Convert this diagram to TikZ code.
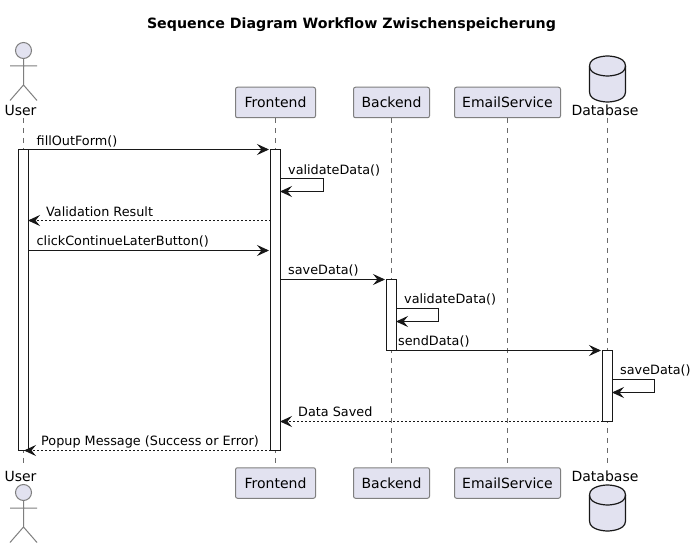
\documentclass[tikz,border=0pt]{standalone}
\usepackage{fontspec}
\setmainfont{DejaVu Sans}
\usetikzlibrary{arrows.meta}
\definecolor{partfill}{HTML}{E2E2F0}
\definecolor{partline}{HTML}{7F7F7F}
\definecolor{lifeline}{HTML}{6A6A6A}
\definecolor{inkdark}{HTML}{181818}
\tikzset{
  partbox/.style={draw=partline,fill=partfill,line width=1pt,rounded corners=2pt,minimum height=30.5pt,inner sep=0pt,outer sep=0pt,anchor=center,font=\fontsize{14}{16}\selectfont,text=black},
  life/.style={draw=lifeline,line width=0.8pt,dash pattern=on 5pt off 5pt},
  actv/.style={draw=inkdark,fill=white,line width=1pt,minimum width=10pt,inner sep=0pt,outer sep=0pt,anchor=north},
  msg/.style={draw=inkdark,line width=1pt,-{Stealth[length=12pt,width=11pt,inset=4.5pt]}},
  fwd/.style={msg,shorten >=1.5pt},
  rmsg/.style={msg,dash pattern=on 2pt off 2pt,shorten >=-0.5pt},
  lab/.style={anchor=base west,inner sep=0pt,font=\fontsize{12.8}{15}\selectfont,text=black},
  hdr/.style={anchor=base,inner sep=0pt,font=\fontsize{14}{16}\selectfont,text=black},
  actorline/.style={draw=partline,line width=1pt},
  dbshape/.style={draw=inkdark,fill=partfill,line width=1.2pt}
}
\begin{document}
\begin{tikzpicture}[x=1pt,y=-1pt]
\useasboundingbox (0,0) rectangle (697,548);
\fill[white] (0,0) rectangle (697,548);
\node[anchor=base,inner sep=0pt,font=\fontsize{14.2}{16}\bfseries\selectfont] (title) at (351.5,28.5) {Sequence Diagram Workflow Zwischenspeicherung};
% lifeline ends
\coordinate (uT) at (23.5,118); \coordinate (uB) at (23.5,463);
\coordinate (dT) at (607.5,118); \coordinate (dB) at (607.5,463);
% participants
\node[partbox,minimum width=80pt] (fT) at (275.5,102.5) {Frontend};
\node[partbox,minimum width=76pt] (bT) at (391.5,102.5) {Backend};
\node[partbox,minimum width=106pt] (eT) at (507.5,102.5) {EmailService};
\node[partbox,minimum width=80pt] (fB) at (275.5,483) {Frontend};
\node[partbox,minimum width=76pt] (bB) at (391.5,483) {Backend};
\node[partbox,minimum width=106pt] (eB) at (507.5,483) {EmailService};
% lifelines
\draw[life] (uT) -- (uB);
\draw[life,shorten <=0.5pt,shorten >=4.5pt] (fT) -- (fB);
\draw[life,shorten <=0.5pt,shorten >=4.5pt] (bT) -- (bB);
\draw[life,shorten <=0.5pt,shorten >=4.5pt] (eT) -- (eB);
\draw[life] (dT) -- (dB);
% activations
\node[actv,minimum height=301pt] (aU) at (23.5,149.5) {};
\node[actv,minimum height=301pt] (aF) at (275.5,149.5) {};
\node[actv,minimum height=71pt] (aB) at (391.5,279.5) {};
\node[actv,minimum height=71pt] (aD) at (607.5,350.5) {};
% actors
\draw[actorline,fill=partfill] (23.5,50.5) circle (8);
\draw[actorline] (23.5,59) -- (23.5,85) (10,66) -- (37,66) (10,100.5) -- (23.5,85) -- (37,100.5);
\draw[actorline,fill=partfill] (23.5,492.5) circle (8);
\draw[actorline] (23.5,501) -- (23.5,527) (10,508) -- (37,508) (10,542.5) -- (23.5,527) -- (37,542.5);
\node[hdr] (userT) at (20.5,115.5) {User};
\node[hdr] (userB) at (20.5,481) {User};
% databases
\draw[dbshape] (589.5,66) .. controls (589.5,56) and (607.5,56) .. (607.5,56) .. controls (607.5,56) and (625.5,56) .. (625.5,66) -- (625.5,92) .. controls (625.5,102) and (607.5,102) .. (607.5,102) .. controls (607.5,102) and (589.5,102) .. (589.5,92) -- cycle;
\draw[dbshape,fill=none] (589.5,66) .. controls (589.5,76) and (607.5,76) .. (607.5,76) .. controls (607.5,76) and (625.5,76) .. (625.5,66);
\draw[dbshape] (589.5,495) .. controls (589.5,485) and (607.5,485) .. (607.5,485) .. controls (607.5,485) and (625.5,485) .. (625.5,495) -- (625.5,521) .. controls (625.5,531) and (607.5,531) .. (607.5,531) .. controls (607.5,531) and (589.5,531) .. (589.5,521) -- cycle;
\draw[dbshape,fill=none] (589.5,495) .. controls (589.5,505) and (607.5,505) .. (607.5,505) .. controls (607.5,505) and (625.5,505) .. (625.5,495);
\node[hdr] (dbT) at (605,115.5) {Database};
\node[hdr] (dbB) at (605,481) {Database};
% messages
\draw[fwd] (aU.north east) -- (aF.north west);
\node[lab] (m1) at (36.5,145.5) {fillOutForm()};
\coordinate (s1a) at (280.5,178.5); \coordinate (s1b) at (323,178.5); \coordinate (s1c) at (323,191.5); \coordinate (s1d) at (280.5,191.5);
\draw[msg,shorten >=-0.5pt] (s1a) -- (s1b) -- (s1c) -- (s1d);
\node[lab] (m2) at (288,174.5) {validateData()};
\coordinate (r1a) at (270.5,220.5); \coordinate (r1b) at (28.5,220.5);
\draw[rmsg] (r1a) -- (r1b);
\node[lab] (m3) at (46,216.5) {Validation Result};
\coordinate (c1a) at (28.5,250.5); \coordinate (c1b) at (270.5,250.5);
\draw[fwd] (c1a) -- (c1b);
\node[lab] (m4) at (36.5,245.5) {clickContinueLaterButton()};
\coordinate (f1a) at (280.5,279.5);
\draw[fwd] (f1a) -- (aB.north west);
\node[lab] (m5) at (288,275) {saveData()};
\coordinate (s2a) at (396.5,308.5); \coordinate (s2b) at (438.5,308.5); \coordinate (s2c) at (438.5,321.5); \coordinate (s2d) at (396.5,321.5);
\draw[msg,shorten >=-0.5pt] (s2a) -- (s2b) -- (s2c) -- (s2d);
\node[lab] (m6) at (404,304) {validateData()};
\draw[fwd] (aB.south east) -- (aD.north west);
\node[lab] (m7) at (398,346) {sendData()};
\coordinate (s3a) at (612.5,379.5); \coordinate (s3b) at (654.5,379.5); \coordinate (s3c) at (654.5,392.5); \coordinate (s3d) at (612.5,392.5);
\draw[msg,shorten >=-0.5pt] (s3a) -- (s3b) -- (s3c) -- (s3d);
\node[lab] (m8) at (620,375) {saveData()};
\coordinate (r2b) at (280.5,421.5);
\draw[rmsg] (aD.south west) -- (r2b);
\node[lab] (m9) at (298,417) {Data Saved};
\coordinate (r3b) at (24.5,450.5);
\draw[rmsg] (aF.south west) -- (r3b);
\node[lab] (m10) at (41,446) {Popup Message (Success or Error)};
\end{tikzpicture}
\end{document}
